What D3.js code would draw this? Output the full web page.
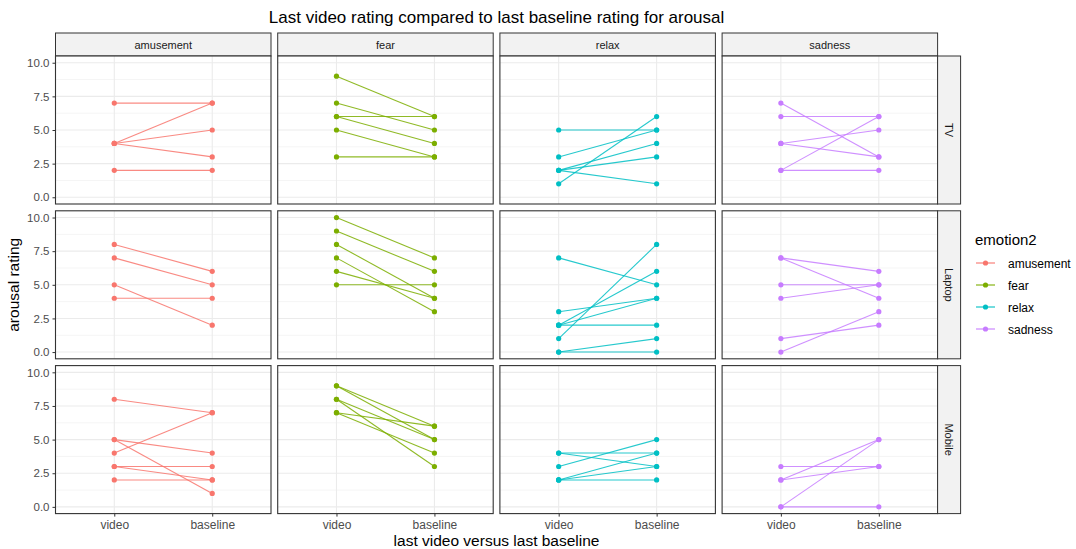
<!DOCTYPE html>
<html>
<head>
<meta charset="utf-8">
<script src="https://cdn.jsdelivr.net/npm/d3@7"></script>
<style>
  body { margin: 0; background: #fff; }
  text { font-family: "Liberation Sans", Arial, sans-serif; }
</style>
</head>
<body>
<div class="chart"></div>
<script>
const emotions = ['amusement', 'fear', 'relax', 'sadness'];
const devices = ['TV', 'Laptop', 'Mobile'];
const conditions = ['video', 'baseline'];
const yTicks = [0, 2.5, 5, 7.5, 10];
const colors = ['#F8766D', '#7CAE00', '#00BFC4', '#C77CFF'];

// [video, baseline] pairs per participant, one list per device (TV, Laptop, Mobile)
const amusement = [
  [[7, 7], [4, 7], [4, 5], [4, 3], [2, 2]],
  [[8, 6], [7, 5], [5, 2], [4, 4]],
  [[8, 7], [5, 4], [5, 1], [4, 7], [3, 3], [3, 2], [2, 2]]
];
const fear = [
  [[9, 6], [7, 5], [6, 6], [6, 4], [5, 3], [3, 3]],
  [[10, 7], [9, 6], [8, 4], [7, 3], [6, 4], [5, 5]],
  [[9, 6], [9, 5], [8, 5], [8, 3], [7, 6], [7, 4]]
];
const relax = [
  [[5, 5], [3, 5], [2, 4], [2, 3], [2, 1], [1, 6]],
  [[7, 5], [3, 4], [2, 6], [2, 4], [2, 2], [1, 8], [0, 1], [0, 0]],
  [[4, 4], [4, 3], [3, 5], [2, 4], [2, 3], [2, 2]]
];
const sadness = [
  [[7, 3], [6, 6], [4, 5], [4, 3], [2, 6], [2, 2]],
  [[7, 6], [7, 4], [5, 5], [4, 5], [1, 2], [0, 3]],
  [[3, 3], [2, 5], [2, 3], [0, 5], [0, 0]]
];
const ratings = [amusement, fear, relax, sadness];

function displayChart() {
  const w = 1076;
  const h = 549;
  const left = 55.5;
  const top = 56;
  const panelW = 215.5;
  const panelH = 148;
  const gapX = 6.7;
  const gapY = 6.8;
  const stripH = 23;
  const font = '"Liberation Sans", Arial, sans-serif';

  const svg = d3.select('.chart')
    .append('svg')
    .attr('width', w)
    .attr('height', h);

  const color = d3.scaleOrdinal().domain(emotions).range(colors);

  // discrete scale expanded by 0.6 units each side
  const xScale = d3.scalePoint()
    .domain(conditions)
    .range([0, panelW])
    .padding(0.6);

  const yScale = d3.scaleLinear()
    .domain([-0.5, 10.5])
    .range([panelH, 0]);

  svg.append('text')
    .attr('x', left + (4 * panelW + 3 * gapX) / 2)
    .attr('y', 23)
    .attr('text-anchor', 'middle')
    .attr('font-size', 17)
    .attr('fill', '#000')
    .text('Last video rating compared to last baseline rating for arousal');

  emotions.forEach((emo, ci) => {
    const px = left + ci * (panelW + gapX);

    // column strip
    svg.append('rect')
      .attr('x', px)
      .attr('y', top - stripH)
      .attr('width', panelW)
      .attr('height', stripH)
      .attr('fill', '#F2F2F2')
      .attr('stroke', '#333')
      .attr('stroke-width', 1);
    svg.append('text')
      .attr('x', px + panelW / 2)
      .attr('y', top - stripH / 2 + 4)
      .attr('text-anchor', 'middle')
      .attr('font-size', 11)
      .attr('fill', '#1A1A1A')
      .text(emo);

    devices.forEach((dev, ri) => {
      const py = top + ri * (panelH + gapY);
      const g = svg.append('g').attr('transform', `translate(${px}, ${py})`);

      g.append('rect')
        .attr('width', panelW)
        .attr('height', panelH)
        .attr('fill', '#fff');

      // minor grid
      g.selectAll('.minor')
        .data([1.25, 3.75, 6.25, 8.75])
        .enter()
        .append('line')
        .attr('x1', 0)
        .attr('x2', panelW)
        .attr('y1', d => yScale(d))
        .attr('y2', d => yScale(d))
        .attr('stroke', '#F5F5F5')
        .attr('stroke-width', 1);

      // major grid
      g.selectAll('.hmajor')
        .data(yTicks)
        .enter()
        .append('line')
        .attr('x1', 0)
        .attr('x2', panelW)
        .attr('y1', d => yScale(d))
        .attr('y2', d => yScale(d))
        .attr('stroke', '#EBEBEB')
        .attr('stroke-width', 1.1);
      g.selectAll('.vmajor')
        .data(conditions)
        .enter()
        .append('line')
        .attr('x1', d => xScale(d))
        .attr('x2', d => xScale(d))
        .attr('y1', 0)
        .attr('y2', panelH)
        .attr('stroke', '#EBEBEB')
        .attr('stroke-width', 1.1);

      const pairs = ratings[ci][ri];

      g.selectAll('.pair')
        .data(pairs)
        .enter()
        .append('line')
        .attr('x1', xScale('video'))
        .attr('x2', xScale('baseline'))
        .attr('y1', d => yScale(d[0]))
        .attr('y2', d => yScale(d[1]))
        .attr('stroke', color(emo))
        .attr('stroke-opacity', 0.85)
        .attr('stroke-width', 1.1);

      const pts = [];
      pairs.forEach(d => {
        pts.push(['video', d[0]]);
        pts.push(['baseline', d[1]]);
      });
      g.selectAll('.pt')
        .data(pts)
        .enter()
        .append('circle')
        .attr('cx', d => xScale(d[0]))
        .attr('cy', d => yScale(d[1]))
        .attr('r', 2.6)
        .attr('fill', color(emo));

      g.append('rect')
        .attr('width', panelW)
        .attr('height', panelH)
        .attr('fill', 'none')
        .attr('stroke', '#333')
        .attr('stroke-width', 1.1);

      if (ci === 0) {
        const ax = g.append('g')
          .call(d3.axisLeft(yScale).tickValues(yTicks).tickFormat(d3.format('.1f')).tickSize(3).tickPadding(3));
        ax.select('.domain').remove();
        ax.selectAll('line').attr('stroke', '#333');
        ax.selectAll('text').attr('fill', '#4D4D4D').attr('font-size', 11.5)
          .attr('font-family', font);
      }
      if (ri === devices.length - 1) {
        const ax = g.append('g')
          .attr('transform', `translate(0, ${panelH})`)
          .call(d3.axisBottom(xScale).tickSize(3).tickPadding(4));
        ax.select('.domain').remove();
        ax.selectAll('line').attr('stroke', '#333');
        ax.selectAll('text').attr('fill', '#4D4D4D').attr('font-size', 12)
          .attr('font-family', font);
      }
      if (ci === emotions.length - 1) {
        const sx = px + panelW;
        svg.append('rect')
          .attr('x', sx)
          .attr('y', py)
          .attr('width', stripH)
          .attr('height', panelH)
          .attr('fill', '#F2F2F2')
          .attr('stroke', '#333')
          .attr('stroke-width', 1);
        svg.append('text')
          .attr('transform', `translate(${sx + stripH / 2 - 4}, ${py + panelH / 2}) rotate(90)`)
          .attr('text-anchor', 'middle')
          .attr('font-size', 11)
          .attr('fill', '#1A1A1A')
          .text(dev);
      }
    });
  });

  // axis titles
  svg.append('text')
    .attr('x', left + (4 * panelW + 3 * gapX) / 2)
    .attr('y', 546)
    .attr('text-anchor', 'middle')
    .attr('font-size', 15.5)
    .attr('fill', '#000')
    .text('last video versus last baseline');
  svg.append('text')
    .attr('transform', `translate(19, ${top + (3 * panelH + 2 * gapY) / 2}) rotate(-90)`)
    .attr('text-anchor', 'middle')
    .attr('font-size', 15.5)
    .attr('fill', '#000')
    .text('arousal rating');

  // legend
  const lg = svg.append('g').attr('transform', 'translate(975, 0)');
  lg.append('text')
    .attr('x', 0)
    .attr('y', 245)
    .attr('font-size', 15)
    .attr('fill', '#000')
    .text('emotion2');
  const items = lg.selectAll('.key')
    .data(emotions)
    .enter()
    .append('g')
    .attr('transform', (d, i) => `translate(0, ${263 + i * 22})`);
  items.append('line')
    .attr('x1', 1)
    .attr('x2', 20)
    .attr('stroke', d => color(d))
    .attr('stroke-width', 1.1);
  items.append('circle')
    .attr('cx', 10.5)
    .attr('r', 2.6)
    .attr('fill', d => color(d));
  items.append('text')
    .attr('x', 33)
    .attr('y', 4.5)
    .attr('font-size', 12)
    .attr('fill', '#000')
    .text(d => d);
}

displayChart();
</script>
</body>
</html>
